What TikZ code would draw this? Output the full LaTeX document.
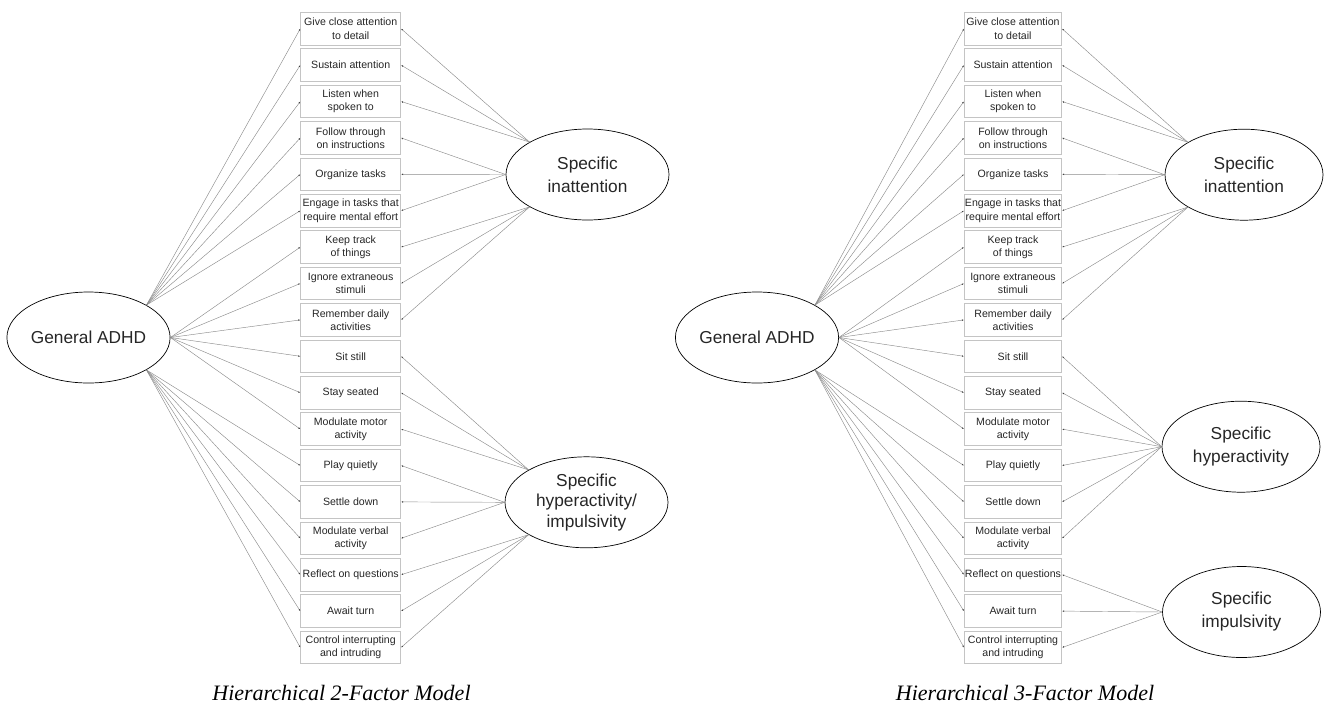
\documentclass[tikz,border=0pt]{standalone}
\usepackage{fontspec}
\setmainfont{Liberation Serif}
\setsansfont{Liberation Sans}
\usetikzlibrary{shapes.geometric,arrows.meta}
\definecolor{boxgray}{HTML}{C4C4C4}
\definecolor{linegray}{HTML}{8C8C8C}
\begin{document}
\begin{tikzpicture}[x=1pt,y=-1pt,
  itembox/.style={draw=boxgray, line width=0.8pt, minimum width=100pt, minimum height=32.5pt,
    inner sep=0pt, align=center, text=black!85, font=\sffamily\fontsize{10.6}{13.3}\selectfont},
  factor/.style={draw=black, line width=0.7pt, ellipse, minimum width=163pt, minimum height=91pt,
    inner sep=0pt, align=center, text=black!85, font=\sffamily\fontsize{17.3}{23}\selectfont},
  link/.style={draw=linegray, line width=0.45pt, -{Latex[length=2pt,width=1.6pt,color=black!75]}},
  captionstyle/.style={anchor=base, inner sep=0pt, font=\rmfamily\itshape\fontsize{22}{26}\selectfont}]
\useasboundingbox (0,0) rectangle (1324,710);

% ---------- items ----------
\foreach \t [count=\i] in {{Give close attention\\to detail},{Sustain attention},{Listen when\\spoken to},
  {Follow through\\on instructions},{Organize tasks},{Engage in tasks that\\require mental effort},
  {Keep track\\of things},{Ignore extraneous\\stimuli},{Remember daily\\activities},{Sit still},
  {Stay seated},{Modulate motor\\activity},{Play quietly},{Settle down},{Modulate verbal\\activity},
  {Reflect on questions},{Await turn},{Control interrupting\\and intruding}}{
  \node[itembox] (a\i) at (350.7,{28.7+36.4*(\i-1)}) {\t};
  \node[itembox, minimum width=97.4pt] (b\i) at (1013,{28.7+36.4*(\i-1)}) {\t};
}

% ---------- factors, left ----------
\node[factor] (GA) at (88.5,337.5) {General ADHD};
\node[factor] (SI) at (587.5,174.5) {Specific\\inattention};
\node[factor, font=\sffamily\fontsize{17.3}{20.5}\selectfont] (SH) at (586.5,502.3) {Specific\\hyperactivity/\\impulsivity};

% ---------- factors, right ----------
\node[factor, minimum width=158pt] (GB) at (757,337.5) {General ADHD};
\node[factor, minimum width=158pt] (SIB) at (1244,174.7) {Specific\\inattention};
\node[factor, minimum width=158pt] (SHB) at (1241,446.7) {Specific\\hyperactivity};
\node[factor, minimum width=158pt] (SPB) at (1241.5,612) {Specific\\impulsivity};

% ---------- links, left ----------
\foreach \i in {1,...,6} \draw[link] (GA.north east) -- (a\i.west);
\foreach \i in {7,...,12} \draw[link] (GA.east) -- (a\i.west);
\foreach \i in {13,...,18} \draw[link] (GA.south east) -- (a\i.west);
\foreach \i in {1,2,3} \draw[link] (SI.north west) -- (a\i.east);
\foreach \i in {4,5,6} \draw[link] (SI.west) -- (a\i.east);
\foreach \i in {7,8,9} \draw[link] (SI.south west) -- (a\i.east);
\foreach \i in {10,11,12} \draw[link] (SH.north west) -- (a\i.east);
\foreach \i in {13,14,15} \draw[link] (SH.west) -- (a\i.east);
\foreach \i in {16,17,18} \draw[link] (SH.south west) -- (a\i.east);

% ---------- links, right ----------
\foreach \i in {1,...,6} \draw[link] (GB.north east) -- (b\i.west);
\foreach \i in {7,...,12} \draw[link] (GB.east) -- (b\i.west);
\foreach \i in {13,...,18} \draw[link] (GB.south east) -- (b\i.west);
\foreach \i in {1,2,3} \draw[link] (SIB.north west) -- (b\i.east);
\foreach \i in {4,5,6} \draw[link] (SIB.west) -- (b\i.east);
\foreach \i in {7,8,9} \draw[link] (SIB.south west) -- (b\i.east);
\foreach \i in {10,...,15} \draw[link] (SHB.west) -- (b\i.east);
\foreach \i in {16,17,18} \draw[link] (SPB.west) -- (b\i.east);

% ---------- captions ----------
\node[captionstyle] (cap1) at (341.5,700) {Hierarchical 2-Factor Model};
\node[captionstyle] (cap2) at (1025,700) {Hierarchical 3-Factor Model};
\end{tikzpicture}
\end{document}
